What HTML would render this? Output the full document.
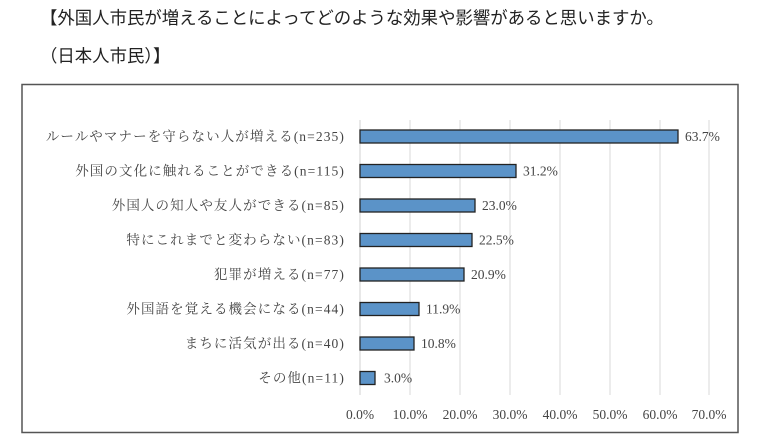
<!DOCTYPE html>
<html><head><meta charset="utf-8"><style>
body{margin:0;background:#fff;width:768px;height:443px;overflow:hidden}
svg{display:block}
.t{font-family:"Liberation Sans","Noto Sans CJK JP",sans-serif;font-size:17.4px;fill:#222}
.l{font-family:"Liberation Serif","Noto Serif CJK SC",serif;font-size:13.5px;fill:#444}
.c{letter-spacing:1.1px}
</style></head><body>
<svg width="768" height="443" xmlns="http://www.w3.org/2000/svg">
<text class="t" x="40" y="24">【外国人市民が増えることによってどのような効果や影響があると思いますか。</text>
<text class="t" x="40" y="62">（日本人市民）】</text>
<rect x="22" y="84.5" width="716" height="348" fill="#fff" stroke="#555" stroke-width="1.5"/>
<g stroke="#d9d9d9" stroke-width="1">
<line x1="410" y1="120" x2="410" y2="395"/><line x1="460" y1="120" x2="460" y2="395"/>
<line x1="510" y1="120" x2="510" y2="395"/><line x1="560" y1="120" x2="560" y2="395"/>
<line x1="610" y1="120" x2="610" y2="395"/><line x1="660" y1="120" x2="660" y2="395"/>
<line x1="709" y1="120" x2="709" y2="395"/>
</g>
<line x1="360" y1="120" x2="360" y2="395" stroke="#d0d0d0"/>
<g fill="#5b93c8" stroke="#222" stroke-width="1.3">
<rect x="360" y="130" width="318" height="13"/>
<rect x="360" y="164.5" width="156" height="13"/>
<rect x="360" y="199" width="115" height="13"/>
<rect x="360" y="233.5" width="112" height="13"/>
<rect x="360" y="268" width="104" height="13"/>
<rect x="360" y="302.5" width="59" height="13"/>
<rect x="360" y="337" width="54" height="13"/>
<rect x="360" y="371.5" width="15" height="13"/>
</g>
<g class="l c" text-anchor="end">
<text x="345" y="141">ルールやマナーを守らない人が増える(n=235)</text>
<text x="345" y="175.5">外国の文化に触れることができる(n=115)</text>
<text x="345" y="210">外国人の知人や友人ができる(n=85)</text>
<text x="345" y="244.5">特にこれまでと変わらない(n=83)</text>
<text x="345" y="279">犯罪が増える(n=77)</text>
<text x="345" y="313.5">外国語を覚える機会になる(n=44)</text>
<text x="345" y="348">まちに活気が出る(n=40)</text>
<text x="345" y="382.5">その他(n=11)</text>
</g>
<g class="l">
<text x="685" y="141">63.7%</text>
<text x="523" y="175.5">31.2%</text>
<text x="482" y="210">23.0%</text>
<text x="479" y="244.5">22.5%</text>
<text x="471" y="279">20.9%</text>
<text x="426" y="313.5">11.9%</text>
<text x="421" y="348">10.8%</text>
<text x="384" y="382.5">3.0%</text>
</g>
<g class="l" text-anchor="middle">
<text x="360" y="419">0.0%</text><text x="410" y="419">10.0%</text><text x="460" y="419">20.0%</text>
<text x="510" y="419">30.0%</text><text x="560" y="419">40.0%</text><text x="610" y="419">50.0%</text>
<text x="660" y="419">60.0%</text><text x="709" y="419">70.0%</text>
</g>
</svg>
</body></html>
